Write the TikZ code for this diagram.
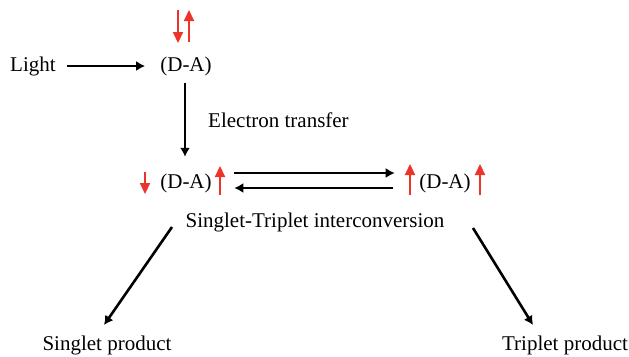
\documentclass[tikz,border=0pt]{standalone}
\usepackage{fontspec}
\setmainfont{Liberation Serif}
\usetikzlibrary{arrows.meta}
\definecolor{spinred}{RGB}{236,52,42}
\begin{document}
\begin{tikzpicture}[x=1pt,y=-1pt,
  lbl/.style={inner sep=0pt,font=\fontsize{21}{25}\selectfont,text height=15pt,text depth=4pt},
  conn/.style={line width=2.6pt,-{Latex[length=9pt,width=10pt]}},
  spin/.style={spinred,line width=2.2pt,-{Triangle[length=11pt,width=10pt]}}]
\useasboundingbox (0,0) rectangle (629,356);
\node[lbl,anchor=west] (light) at (10,66) {Light};
\node[lbl] (da1) at (186,66) {(D-A)};
\node[lbl,anchor=west] (et) at (208,122) {Electron transfer};
\node[lbl] (da2) at (186,183) {(D-A)};
\node[lbl] (da3) at (445,183) {(D-A)};
\node[lbl] (st) at (315,222) {Singlet-Triplet interconversion};
\node[lbl] (sp) at (107,345) {Singlet product};
\node[lbl] (tp) at (565,345) {Triplet product};
\coordinate (stL) at (172,227);
\coordinate (spT) at (104,325);
\coordinate (stR) at (473,228);
\coordinate (tpT) at (533,325);
% connectors
\draw[conn,shorten <=11.5pt,shorten >=15pt] (light.east) -- (da1.west);
\draw[conn,shorten <=7.5pt,shorten >=16.5pt] ([xshift=-1pt]da1.south) -- ([xshift=-1pt]da2.north);
\draw[conn,shorten <=22.4pt,shorten >=24.4pt] ([yshift=10pt]da2.east) -- ([yshift=10pt]da3.west);
\draw[conn,shorten <=26pt,shorten >=22.4pt] ([yshift=-5pt]da3.west) -- ([yshift=-5pt]da2.east);
\draw[conn] (stL) -- (spT);
\draw[conn] (stR) -- (tpT);
% spins
\draw[spin] (178,10) -- (178,43);
\draw[spin] (189,42) -- (189,10);
\draw[spin] (145,172) -- (145,194);
\draw[spin] (220,195) -- (220,166);
\draw[spin] (410,195) -- (410,164);
\draw[spin] (480,195) -- (480,164);
\end{tikzpicture}
\end{document}
